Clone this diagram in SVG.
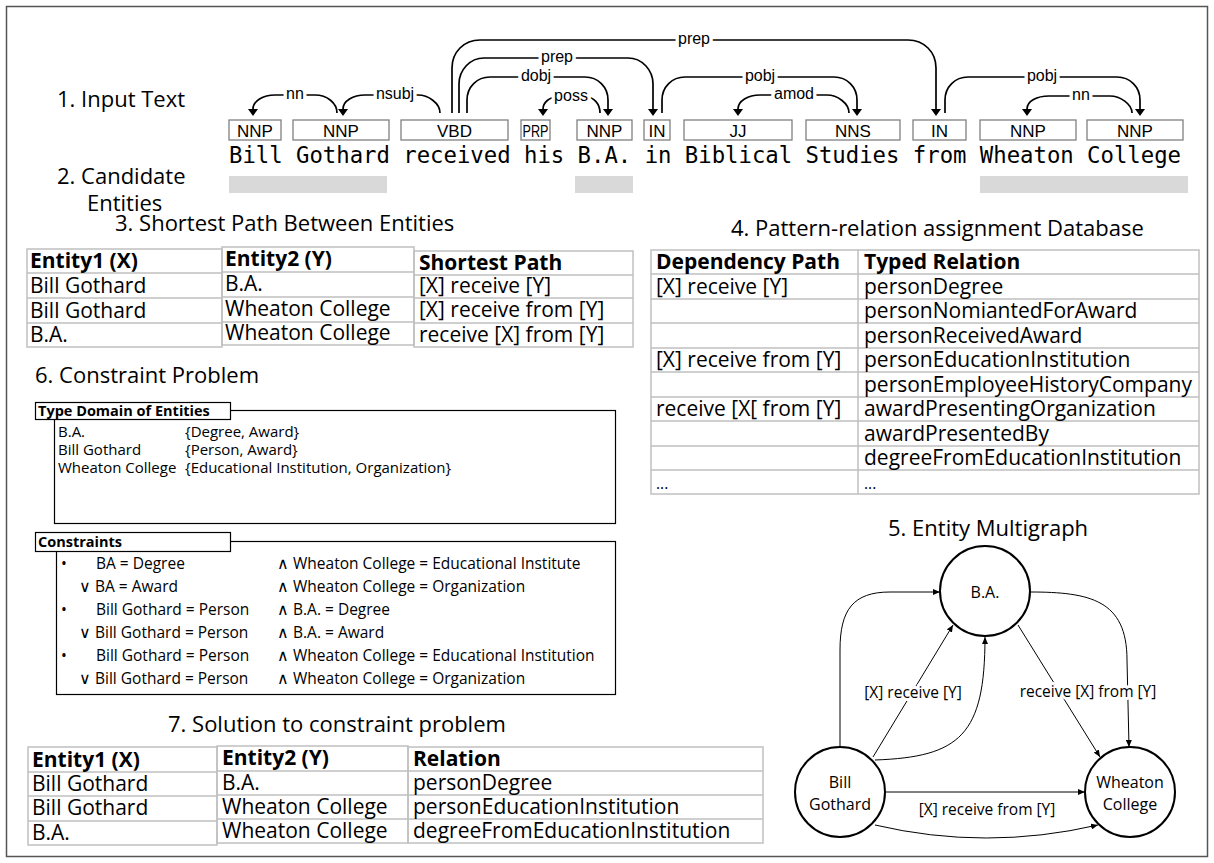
<svg xmlns="http://www.w3.org/2000/svg" width="1214" height="863" viewBox="0 0 1214 863">
<style>
.os{font-family:"Open Sans","Liberation Sans",sans-serif;fill:#000}
.title{font-size:22px}
.cell{font-size:21px}
.b{font-weight:bold}
.sm{font-size:15.5px}
.td{font-size:15px}
.lb{font-size:15.5px}
.nd{font-size:16px}
.dep{font-family:"Liberation Sans",Arial,sans-serif;font-size:16px;fill:#000;text-anchor:middle;stroke:#fff;stroke-width:7px;paint-order:stroke;stroke-linejoin:round}
.pos{font-family:"Liberation Sans",Arial,sans-serif;font-size:17px;fill:#000;text-anchor:middle}
.mono{font-family:"DejaVu Sans Mono","Liberation Mono",monospace;font-size:22.3px;fill:#000}
.posbox{fill:#fff;stroke:#808080;stroke-width:1.3}
.arc{fill:none;stroke:#000;stroke-width:1.7}
.grid{fill:none;stroke:#c0c0c0;stroke-width:1.5}
.edge{fill:none;stroke:#000;stroke-width:1}
.circ{fill:#fff;stroke:#000;stroke-width:2}
.elbl{stroke:#fff;stroke-width:6px;paint-order:stroke;stroke-linejoin:round}
.mid{text-anchor:middle}
</style>
<defs>
<marker id="ah" viewBox="0 0 7 10" refX="0" refY="5" markerWidth="7" markerHeight="10" markerUnits="userSpaceOnUse" orient="auto"><path d="M0,0 L7,5 L0,10 z" fill="#000"/></marker>
<marker id="sa" viewBox="0 0 7 6" refX="7" refY="3" markerWidth="7" markerHeight="6" markerUnits="userSpaceOnUse" orient="auto"><path d="M0,0 L7,3 L0,6 z" fill="#000"/></marker>
</defs>
<rect x="0" y="0" width="1214" height="863" fill="#fff"/>
<rect x="6.5" y="6.5" width="1201" height="850" fill="none" stroke="#555" stroke-width="1.5"/>

<g id="section1-labels">
<text class="os title" x="57" y="107">1. Input Text</text>
<text class="os title" x="57" y="184">2. Candidate</text>
<text class="os title" x="87" y="211">Entities</text>
</g>

<g id="candidate-bars" fill="#d9d9d9">
<rect x="229" y="176" width="158" height="17"/>
<rect x="575" y="176" width="58" height="17"/>
<rect x="980" y="176" width="208" height="17"/>
</g>

<g id="tokens">
<g id="tok-bill"><rect class="posbox" x="229" y="120" width="52" height="20"/><text class="pos" x="255" y="137">NNP</text></g>
<g id="tok-gothard"><rect class="posbox" x="293" y="120" width="96" height="20"/><text class="pos" x="341" y="137">NNP</text></g>
<g id="tok-received"><rect class="posbox" x="401" y="120" width="107" height="20"/><text class="pos" x="454.5" y="137">VBD</text></g>
<g id="tok-his"><rect class="posbox" x="521" y="120" width="29" height="20"/><text class="pos" x="535.5" y="137" textLength="26" lengthAdjust="spacingAndGlyphs">PRP</text></g>
<g id="tok-ba"><rect class="posbox" x="577" y="120" width="55" height="20"/><text class="pos" x="604.5" y="137">NNP</text></g>
<g id="tok-in"><rect class="posbox" x="644" y="120" width="26" height="20"/><text class="pos" x="657" y="137">IN</text></g>
<g id="tok-biblical"><rect class="posbox" x="684" y="120" width="108" height="20"/><text class="pos" x="738" y="137">JJ</text></g>
<g id="tok-studies"><rect class="posbox" x="806" y="120" width="94" height="20"/><text class="pos" x="853" y="137">NNS</text></g>
<g id="tok-from"><rect class="posbox" x="913" y="120" width="53" height="20"/><text class="pos" x="939.5" y="137">IN</text></g>
<g id="tok-wheaton"><rect class="posbox" x="980" y="120" width="96" height="20"/><text class="pos" x="1028" y="137">NNP</text></g>
<g id="tok-college"><rect class="posbox" x="1087" y="120" width="96" height="20"/><text class="pos" x="1135" y="137">NNP</text></g>
<text class="mono" x="229" y="163" textLength="952" lengthAdjust="spacing" xml:space="preserve">Bill Gothard received his B.A. in Biblical Studies from Wheaton College</text>
</g>

<g id="dep-arcs">
<path class="arc" marker-end="url(#ah)" d="M 337 113 C 337 103 327 95 315 95 H 275 C 263 95 253 101 253 109"/>
<path class="arc" marker-end="url(#ah)" d="M 440 113 C 440 103 428 95 418 95 H 365 C 353 95 343 101 343 109"/>
<path class="arc" marker-end="url(#ah)" d="M 452 113 L 452 68 C 452 52 464 40 480 40 H 908 C 924 40 936 52 936 68 L 936 109"/>
<path class="arc" marker-end="url(#ah)" d="M 459 113 L 459 84 C 459 70 470 58 484 58 H 628 C 642 58 653 70 653 84 L 653 109"/>
<path class="arc" marker-end="url(#ah)" d="M 467 113 L 467 100 C 467 87 477 77 490 77 H 585 C 598 77 608 87 608 100 L 608 109"/>
<path class="arc" marker-end="url(#ah)" d="M 600 113 C 600 104 594 97 586 97 H 557 C 549 97 543 103 543 109"/>
<path class="arc" marker-end="url(#ah)" d="M 662 113 L 662 100 C 662 87 672 77 685 77 H 834 C 847 77 857 87 857 100 L 857 109"/>
<path class="arc" marker-end="url(#ah)" d="M 849 113 C 849 103 837 95 827 95 H 760 C 748 95 738 101 738 109"/>
<path class="arc" marker-end="url(#ah)" d="M 945 113 L 945 100 C 945 87 955 77 968 77 H 1117 C 1130 77 1140 87 1140 100 L 1140 109"/>
<path class="arc" marker-end="url(#ah)" d="M 1132 113 C 1132 104 1120 96 1110 96 H 1049 C 1037 96 1027 101 1027 109"/>
<text class="dep" x="295" y="99">nn</text>
<text class="dep" x="395" y="99">nsubj</text>
<text class="dep" x="694" y="44">prep</text>
<text class="dep" x="557" y="62">prep</text>
<text class="dep" x="536" y="81">dobj</text>
<text class="dep" x="571" y="101">poss</text>
<text class="dep" x="760" y="81">pobj</text>
<text class="dep" x="794" y="99">amod</text>
<text class="dep" x="1042" y="81">pobj</text>
<text class="dep" x="1081" y="100">nn</text>
</g>

<g id="table3">
<text class="os title" x="115" y="231">3. Shortest Path Between Entities</text>
<g class="grid">
<rect x="27" y="249" width="195" height="98"/>
<path d="M27 273H222M27 298H222M27 323H222"/>
<rect x="222" y="247" width="192" height="98"/>
<path d="M222 272H414M222 297H414M222 322H414"/>
<rect x="414" y="251" width="219" height="96"/>
<path d="M414 275H633M414 298H633M414 323H633"/>
</g>
<text class="os cell b" x="30" y="268">Entity1 (X)</text>
<text class="os cell b" x="225" y="266">Entity2 (Y)</text>
<text class="os cell b" x="419" y="270">Shortest Path</text>
<text class="os cell" x="30" y="293">Bill Gothard</text>
<text class="os cell" x="30" y="318">Bill Gothard</text>
<text class="os cell" x="30" y="342">B.A.</text>
<text class="os cell" x="225" y="291">B.A.</text>
<text class="os cell" x="225" y="316">Wheaton College</text>
<text class="os cell" x="225" y="340">Wheaton College</text>
<text class="os cell" x="419" y="293">[X] receive [Y]</text>
<text class="os cell" x="419" y="317">[X] receive from [Y]</text>
<text class="os cell" x="419" y="342">receive [X] from [Y]</text>
</g>

<g id="table4">
<text class="os title" x="731" y="236">4. Pattern-relation assignment Database</text>
<g class="grid">
<rect x="651" y="250" width="548" height="244"/>
<path d="M858 250V494M651 274H1199M651 299H1199M651 323H1199M651 348H1199M651 372H1199M651 397H1199M651 421H1199M651 446H1199M651 470H1199"/>
</g>
<text class="os cell b" x="656" y="269">Dependency Path</text>
<text class="os cell b" x="864" y="269">Typed Relation</text>
<text class="os cell" x="656" y="294">[X] receive [Y]</text>
<text class="os cell" x="864" y="294">personDegree</text>
<text class="os cell" x="864" y="318">personNomiantedForAward</text>
<text class="os cell" x="864" y="343">personReceivedAward</text>
<text class="os cell" x="656" y="367">[X] receive from [Y]</text>
<text class="os cell" x="864" y="367">personEducationInstitution</text>
<text class="os cell" x="864" y="392">personEmployeeHistoryCompany</text>
<text class="os cell" x="656" y="416">receive [X[ from [Y]</text>
<text class="os cell" x="864" y="416">awardPresentingOrganization</text>
<text class="os cell" x="864" y="441">awardPresentedBy</text>
<text class="os cell" x="864" y="465">degreeFromEducationInstitution</text>
<text class="os sm" x="656" y="489">...</text>
<text class="os sm" x="864" y="489">...</text>
</g>

<g id="constraint-problem">
<text class="os title" x="35" y="383">6. Constraint Problem</text>
<rect x="54.5" y="410.5" width="561" height="113" fill="none" stroke="#000" stroke-width="1.2"/>
<rect x="35.5" y="402.5" width="195" height="17" fill="#fff" stroke="#000" stroke-width="1.2"/>
<text class="os b" x="38" y="416" font-size="14.5px">Type Domain of Entities</text>
<text class="os td" x="58" y="437">B.A.</text>
<text class="os td" x="185" y="437">{Degree, Award}</text>
<text class="os td" x="58" y="455">Bill Gothard</text>
<text class="os td" x="185" y="455">{Person, Award}</text>
<text class="os td" x="58" y="473">Wheaton College</text>
<text class="os td" x="185" y="473">{Educational Institution, Organization}</text>

<rect x="56.5" y="541.5" width="559" height="153" fill="none" stroke="#000" stroke-width="1.2"/>
<rect x="35.5" y="532.5" width="195" height="19" fill="#fff" stroke="#000" stroke-width="1.2"/>
<text class="os b" x="38" y="547" font-size="14.5px">Constraints</text>
<text class="os sm" x="61" y="569">•</text>
<text class="os sm" x="96" y="569">BA = Degree</text>
<text class="os sm" x="277" y="569">∧ Wheaton College = Educational Institute</text>
<text class="os sm" x="79" y="592">∨ BA = Award</text>
<text class="os sm" x="277" y="592">∧ Wheaton College = Organization</text>
<text class="os sm" x="61" y="615">•</text>
<text class="os sm" x="96" y="615">Bill Gothard = Person</text>
<text class="os sm" x="277" y="615">∧ B.A. = Degree</text>
<text class="os sm" x="79" y="638">∨ Bill Gothard = Person</text>
<text class="os sm" x="277" y="638">∧ B.A. = Award</text>
<text class="os sm" x="61" y="661">•</text>
<text class="os sm" x="96" y="661">Bill Gothard = Person</text>
<text class="os sm" x="277" y="661">∧ Wheaton College = Educational Institution</text>
<text class="os sm" x="79" y="684">∨ Bill Gothard = Person</text>
<text class="os sm" x="277" y="684">∧ Wheaton College = Organization</text>
</g>

<g id="table7">
<text class="os title" x="168" y="732">7. Solution to constraint problem</text>
<g class="grid">
<rect x="28" y="747" width="189" height="98"/>
<path d="M28 772H217M28 796H217M28 821H217"/>
<rect x="217" y="746" width="191" height="97"/>
<path d="M217 771H408M217 795H408M217 819H408"/>
<rect x="408" y="747" width="355" height="96"/>
<path d="M408 771H763M408 795H763M408 819H763"/>
</g>
<text class="os cell b" x="32" y="767">Entity1 (X)</text>
<text class="os cell b" x="222" y="765">Entity2 (Y)</text>
<text class="os cell b" x="413" y="766">Relation</text>
<text class="os cell" x="32" y="791">Bill Gothard</text>
<text class="os cell" x="32" y="815">Bill Gothard</text>
<text class="os cell" x="32" y="840">B.A.</text>
<text class="os cell" x="222" y="790">B.A.</text>
<text class="os cell" x="222" y="814">Wheaton College</text>
<text class="os cell" x="222" y="838">Wheaton College</text>
<text class="os cell" x="413" y="790">personDegree</text>
<text class="os cell" x="413" y="814">personEducationInstitution</text>
<text class="os cell" x="413" y="838">degreeFromEducationInstitution</text>
</g>

<text class="os title" x="888" y="536">5. Entity Multigraph</text>
<g id="connectors">
<path class="edge" marker-end="url(#sa)" d="M 840 747 L 840 650 C 840 610 853 592 890 592 L 940 592"/>
<path class="edge" marker-end="url(#sa)" d="M 873 757 L 953 625"/>
<path class="edge" marker-end="url(#sa)" d="M 875 760 C 960 757 985 735 985 637"/>
<path class="edge" marker-end="url(#sa)" d="M 1018 625 L 1100 757"/>
<path class="edge" marker-end="url(#sa)" d="M 1030 592 C 1090 592 1127 600 1127 660 L 1129 747"/>
<path class="edge" marker-end="url(#sa)" d="M 885 792 L 1085 792"/>
<path class="edge" marker-end="url(#sa)" d="M 875 825 Q 986 851 1098 825"/>
<text class="os lb elbl mid" x="913" y="698">[X] receive [Y]</text>
<text class="os lb elbl mid" x="1088" y="697">receive [X] from [Y]</text>
<text class="os lb elbl mid" x="987" y="815">[X] receive from [Y]</text>
</g>
<g id="node-ba">
<circle class="circ" cx="985" cy="591" r="45"/>
<text class="os nd mid" x="985" y="598">B.A.</text>
</g>
<g id="node-bill">
<circle class="circ" cx="840" cy="792" r="45"/>
<text class="os nd mid" x="840" y="788">Bill</text>
<text class="os nd mid" x="840" y="810">Gothard</text>
</g>
<g id="node-wheaton">
<circle class="circ" cx="1130" cy="792" r="45"/>
<text class="os nd mid" x="1130" y="788">Wheaton</text>
<text class="os nd mid" x="1130" y="810">College</text>
</g>
</svg>
